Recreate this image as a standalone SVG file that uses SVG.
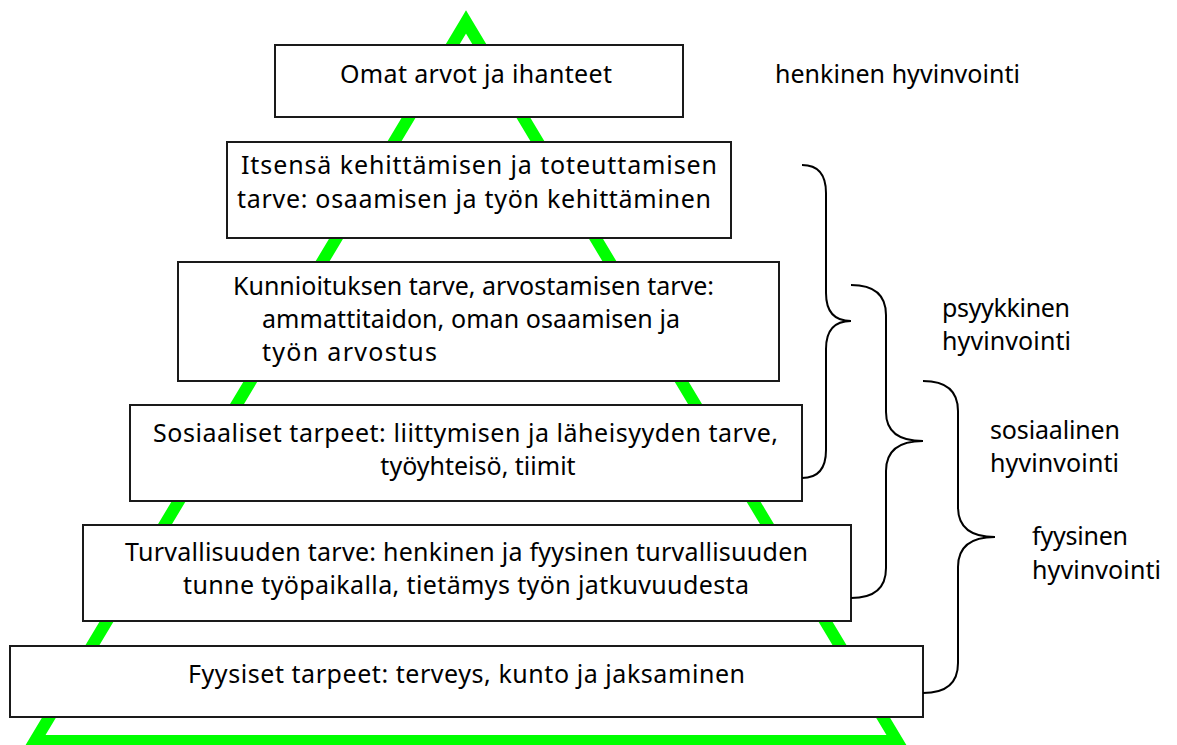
<svg xmlns="http://www.w3.org/2000/svg" width="1177" height="745" viewBox="0 0 1177 745">
  <style>
    .box { fill: #ffffff; stroke: #1a1a1a; stroke-width: 2; }
    .t { font-family: "Noto Sans", "Open Sans", "DejaVu Sans", sans-serif; font-size: 25px; fill: #000000; }
    .mid { text-anchor: middle; }
    .brace { fill: none; stroke: #000000; stroke-width: 2; }
  </style>
  <rect x="0" y="0" width="1177" height="745" fill="#ffffff"/>

  <!-- green pyramid outline behind the levels -->
  <polygon id="pyramid" points="466,22 35,741 897,741" fill="none" stroke="#00ff00" stroke-width="12" stroke-linejoin="miter"/>

  <g id="level-values">
    <rect class="box" x="275" y="45" width="408" height="72"/>
    <text class="t" x="340" y="83" textLength="272">Omat arvot ja ihanteet</text>
  </g>

  <g id="level-selfrealisation">
    <rect class="box" x="227" y="142" width="504" height="96"/>
    <text class="t" x="241" y="174" textLength="476">Itsensä kehittämisen ja toteuttamisen</text>
    <text class="t" x="237" y="208" textLength="474">tarve: osaamisen ja työn kehittäminen</text>
  </g>

  <g id="level-esteem">
    <rect class="box" x="178" y="262" width="601" height="119"/>
    <text class="t" x="233" y="295" textLength="481">Kunnioituksen tarve, arvostamisen tarve:</text>
    <text class="t" x="262" y="328" textLength="418">ammattitaidon, oman osaamisen ja</text>
    <text class="t" x="262" y="361" textLength="175">työn arvostus</text>
  </g>

  <g id="level-social">
    <rect class="box" x="130" y="405" width="672" height="96"/>
    <text class="t" x="153" y="442" textLength="625">Sosiaaliset tarpeet: liittymisen ja läheisyyden tarve,</text>
    <text class="t mid" x="478" y="475">työyhteisö, tiimit</text>
  </g>

  <g id="level-safety">
    <rect class="box" x="83" y="525" width="768" height="96"/>
    <text class="t" x="125" y="561" textLength="683">Turvallisuuden tarve: henkinen ja fyysinen turvallisuuden</text>
    <text class="t" x="183" y="594" textLength="566">tunne työpaikalla, tietämys työn jatkuvuudesta</text>
  </g>

  <g id="level-physical">
    <rect class="box" x="10" y="646" width="913" height="71"/>
    <text class="t" x="188" y="683" textLength="557">Fyysiset tarpeet: terveys, kunto ja jaksaminen</text>
  </g>

  <!-- curly braces grouping the levels -->
  <g id="connectors">
    <path class="brace" d="M802,165 Q826,165 826,193 L826,293 Q826,321 851,321 Q826,321 826,349 L826,450 Q826,478 802,478"/>
    <path class="brace" d="M851,285 Q886,285 886,315 L886,412 Q886,441 923,441 Q886,441 886,471 L886,568 Q886,598 851,598"/>
    <path class="brace" d="M923,381 Q958,381 958,411 L958,507 Q958,537 995,537 Q958,537 958,567 L958,663 Q958,693 923,693"/>
  </g>

  <g id="label-spiritual">
    <text class="t" x="775" y="83" textLength="245">henkinen hyvinvointi</text>
  </g>
  <g id="label-psychological">
    <text class="t" x="942" y="317" textLength="128">psyykkinen</text>
    <text class="t" x="942" y="350" textLength="129">hyvinvointi</text>
  </g>
  <g id="label-social">
    <text class="t" x="990" y="439" textLength="130">sosiaalinen</text>
    <text class="t" x="990" y="472" textLength="129">hyvinvointi</text>
  </g>
  <g id="label-physical">
    <text class="t" x="1032" y="545" textLength="96">fyysinen</text>
    <text class="t" x="1032" y="579" textLength="129">hyvinvointi</text>
  </g>
</svg>
